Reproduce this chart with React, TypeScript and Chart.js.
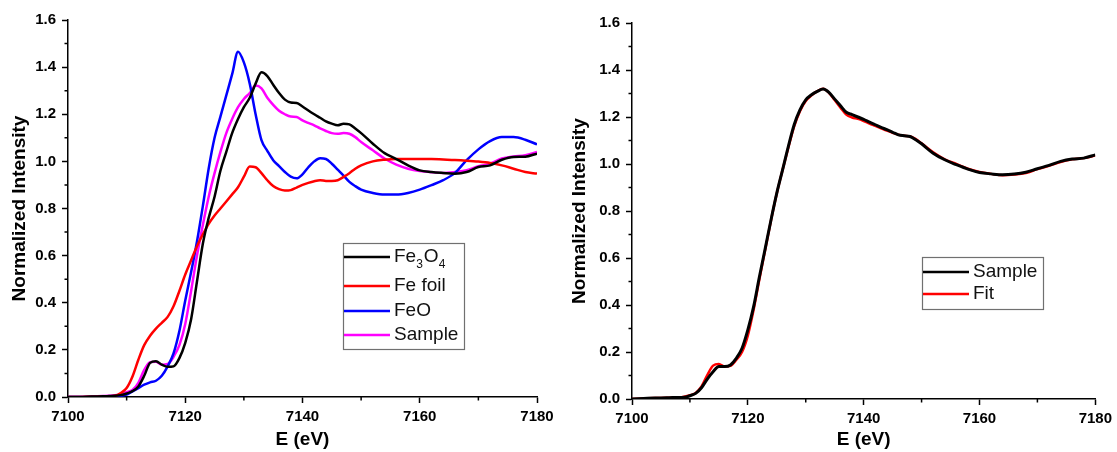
import React, { useEffect, useRef } from "react";
import { Chart, registerables } from "chart.js";

Chart.register(...registerables);

// ---------- data ----------
const energy = [
  7100, 7102, 7104, 7106, 7107, 7108, 7109,
  7110, 7111, 7112, 7113, 7114, 7115, 7116, 7117, 7118, 7119,
  7120, 7121, 7122, 7123, 7124, 7125, 7126, 7127, 7128, 7129,
  7130, 7131, 7132, 7133, 7134, 7135, 7136, 7137, 7138, 7139,
  7140, 7141, 7142, 7143, 7144, 7145, 7146, 7147, 7148, 7149,
  7150, 7152, 7154, 7156, 7158, 7160, 7162, 7164, 7166, 7168,
  7170, 7172, 7174, 7176, 7178, 7180,
];

const fe3o4 = [
  0, 0, 0.002, 0.003, 0.004, 0.005, 0.008,
  0.015, 0.025, 0.045, 0.09, 0.145, 0.152, 0.137, 0.128, 0.13, 0.165,
  0.23, 0.33, 0.49, 0.65, 0.76, 0.85, 0.96, 1.04, 1.12, 1.18,
  1.23, 1.27, 1.33, 1.378, 1.362, 1.325, 1.29, 1.262, 1.25, 1.248,
  1.233, 1.216, 1.2, 1.185, 1.17, 1.16, 1.153, 1.16, 1.157, 1.14,
  1.12, 1.075, 1.035, 1.01, 0.983, 0.962, 0.955, 0.951, 0.948, 0.955,
  0.976, 0.983, 1.007, 1.019, 1.02, 1.033,
];

const feFoil = [
  0, 0, 0.001, 0.002, 0.003, 0.005, 0.017,
  0.038, 0.087, 0.158, 0.22, 0.26, 0.29, 0.315, 0.34, 0.385, 0.45,
  0.52, 0.58, 0.64, 0.69, 0.735, 0.77, 0.8, 0.83, 0.86, 0.89,
  0.935, 0.978, 0.975, 0.95, 0.92, 0.895, 0.882, 0.876, 0.878, 0.889,
  0.9, 0.909, 0.916, 0.92, 0.917, 0.917, 0.92, 0.934, 0.95, 0.969,
  0.983, 1.0, 1.007, 1.01, 1.01, 1.01, 1.01, 1.008, 1.006, 1.003,
  0.999, 0.993, 0.983, 0.969, 0.955, 0.948,
];

const feO = [
  0, 0, 0, 0, 0, 0.002, 0.005,
  0.01, 0.024, 0.038, 0.052, 0.062, 0.069, 0.09, 0.13, 0.185, 0.28,
  0.41, 0.53, 0.66, 0.81, 0.97, 1.1, 1.19, 1.28, 1.37, 1.465,
  1.42, 1.33, 1.2, 1.09, 1.045, 1.005, 0.98, 0.955, 0.935, 0.928,
  0.945, 0.975, 1.0, 1.013, 1.01, 0.99, 0.965, 0.94, 0.913, 0.895,
  0.88, 0.866, 0.859, 0.859, 0.866, 0.88, 0.899, 0.92, 0.951, 1.005,
  1.051, 1.086, 1.103, 1.103, 1.092, 1.072,
];

const sampleLeft = [
  0, 0, 0.002, 0.004, 0.005, 0.007, 0.012,
  0.02, 0.03, 0.06, 0.115, 0.148, 0.15, 0.137, 0.14, 0.17, 0.22,
  0.31, 0.45, 0.6, 0.73, 0.85, 0.95, 1.04, 1.12, 1.18, 1.23,
  1.265, 1.29, 1.322, 1.31, 1.27, 1.24, 1.215, 1.2, 1.19, 1.188,
  1.174, 1.163, 1.153, 1.14, 1.129, 1.12, 1.117, 1.12, 1.117, 1.103,
  1.082, 1.047, 1.012, 0.986, 0.969, 0.959, 0.954, 0.951, 0.955, 0.962,
  0.979, 0.99, 1.012, 1.021, 1.026, 1.04,
];

const sampleRight = [
  0, 0.002, 0.004, 0.005, 0.006, 0.006, 0.007,
  0.014, 0.024, 0.048, 0.085, 0.116, 0.138, 0.138, 0.145, 0.173, 0.216,
  0.294, 0.393, 0.52, 0.64, 0.762, 0.876, 0.975, 1.075, 1.167, 1.23,
  1.273, 1.295, 1.309, 1.319, 1.305, 1.276, 1.248, 1.22, 1.21, 1.2,
  1.19, 1.178, 1.167, 1.156, 1.146, 1.135, 1.124, 1.12, 1.117, 1.103,
  1.086, 1.046, 1.018, 0.997, 0.978, 0.964, 0.958, 0.954, 0.957, 0.965,
  0.98, 0.994, 1.011, 1.021, 1.025, 1.039,
];

const fitRight = [
  0, 0.002, 0.004, 0.005, 0.006, 0.007, 0.01,
  0.016, 0.026, 0.053, 0.102, 0.142, 0.149, 0.138, 0.141, 0.166, 0.2,
  0.27, 0.38, 0.51, 0.635, 0.76, 0.875, 0.975, 1.07, 1.16, 1.225,
  1.268, 1.292, 1.31, 1.32, 1.303, 1.272, 1.24, 1.21, 1.198, 1.192,
  1.183, 1.172, 1.162, 1.152, 1.142, 1.133, 1.125, 1.12, 1.118, 1.106,
  1.088, 1.05, 1.02, 1.0, 0.98, 0.966, 0.958, 0.952, 0.955, 0.962,
  0.978, 0.992, 1.008, 1.02, 1.025, 1.036,
];

const xMin = 7100;
const xMax = 7180;
const xStep = 20;
const yMin = 0;
const yMax = 1.6;
const yStep = 0.2;
const xTitle = "E (eV)";
const yTitle = "Normalized Intensity";

// label parts: [text, isSubscript]
type Part = [string, boolean];
const leftLabels: Part[][] = [
  [["Fe", false], ["3", true], ["O", false], ["4", true]],
  [["Fe foil", false]],
  [["FeO", false]],
  [["Sample", false]],
];
const rightLabels: Part[][] = [[["Sample", false]], [["Fit", false]]];

const FONT = "'Liberation Sans', Arial, Helvetica, sans-serif";

const pts = (vals: number[]) => energy.map((e, i) => ({ x: e, y: vals[i] }));

type LegendCfg = {
  box: [number, number, number, number];
  lineX: [number, number];
  textX: number;
  rowsY: number[];
  labels: Part[][];
  colors: string[];
};

function makePanelConfig(
  datasets: { data: number[]; color: string; width: number }[],
  legend: LegendCfg,
  geom: { yWidth: number; xHeight: number; padTop: number; padRight: number }
): any {
  const legendPlugin = {
    id: "boxLegend",
    afterDraw(chart: any) {
      const ctx = chart.ctx as CanvasRenderingContext2D;
      ctx.save();
      const [x0, y0, x1, y1] = legend.box;
      ctx.fillStyle = "#ffffff";
      ctx.fillRect(x0, y0, x1 - x0, y1 - y0);
      ctx.strokeStyle = "#707070";
      ctx.lineWidth = 1.2;
      ctx.strokeRect(x0 + 0.5, y0 + 0.5, x1 - x0, y1 - y0);
      legend.labels.forEach((parts, i) => {
        const y = legend.rowsY[i];
        ctx.strokeStyle = legend.colors[i];
        ctx.lineWidth = 2.5;
        ctx.beginPath();
        ctx.moveTo(legend.lineX[0], y);
        ctx.lineTo(legend.lineX[1], y);
        ctx.stroke();
        let x = legend.textX;
        ctx.fillStyle = "#111";
        ctx.textBaseline = "middle";
        ctx.textAlign = "left";
        parts.forEach(([t, sub]) => {
          ctx.font = sub ? `12px ${FONT}` : `19px ${FONT}`;
          ctx.fillText(t, x, sub ? y + 8 : y);
          x += ctx.measureText(t).width + (sub ? 1 : 0);
        });
      });
      ctx.restore();
    },
  };

  const minorTicks = {
    id: "minorTicks",
    afterDraw(chart: any) {
      const ctx = chart.ctx as CanvasRenderingContext2D;
      const xs = chart.scales.x;
      const ys = chart.scales.y;
      const area = chart.chartArea;
      ctx.save();
      ctx.strokeStyle = "#000";
      ctx.lineWidth = 1.5;
      ctx.beginPath();
      for (let v = xMin + xStep / 2; v < xMax; v += xStep) {
        const px = xs.getPixelForValue(v);
        ctx.moveTo(px, area.bottom);
        ctx.lineTo(px, area.bottom + 3.5);
      }
      for (let k = 0; k < Math.round((yMax - yMin) / yStep); k++) {
        const v = yMin + yStep * k + yStep / 2;
        const py = ys.getPixelForValue(v);
        ctx.moveTo(area.left, py);
        ctx.lineTo(area.left - 3.5, py);
      }
      ctx.stroke();
      ctx.restore();
    },
  };

  return {
    type: "line",
    data: {
      datasets: datasets.map((d) => ({
        data: pts(d.data),
        borderColor: d.color,
        backgroundColor: d.color,
        borderWidth: d.width,
        pointRadius: 0,
        cubicInterpolationMode: "monotone",
        fill: false,
      })),
    },
    options: {
      animation: false,
      responsive: false,
      devicePixelRatio: 1,
      layout: { padding: { left: 0, top: geom.padTop, right: geom.padRight, bottom: 0 } },
      plugins: { legend: { display: false }, tooltip: { enabled: false } },
      scales: {
        x: {
          type: "linear",
          min: xMin,
          max: xMax,
          afterFit: (s: any) => {
            s.height = geom.xHeight;
          },
          ticks: {
            stepSize: xStep,
            color: "#000",
            font: { family: FONT, size: 15, weight: "bold" },
            padding: 5,
            maxRotation: 0,
            callback: (v: any) => String(v),
          },
          grid: { drawOnChartArea: false, tickLength: 6, tickColor: "#000", tickWidth: 1.5 },
          border: { display: true, color: "#000", width: 1.5 },
          title: {
            display: true,
            text: xTitle,
            color: "#000",
            font: { family: FONT, size: 19, weight: "bold", lineHeight: 1.2 },
            padding: { top: 0, bottom: 1 },
          },
        },
        y: {
          type: "linear",
          min: yMin,
          max: yMax,
          afterFit: (s: any) => {
            s.width = geom.yWidth;
          },
          ticks: {
            stepSize: yStep,
            color: "#000",
            font: { family: FONT, size: 15, weight: "bold" },
            padding: 6,
            callback: (v: any) => Number(v).toFixed(1),
          },
          grid: { drawOnChartArea: false, tickLength: 6, tickColor: "#000", tickWidth: 1.5 },
          border: { display: true, color: "#000", width: 1.5 },
          title: {
            display: true,
            text: yTitle,
            color: "#000",
            font: { family: FONT, size: 19, weight: "bold", lineHeight: 1.2 },
            padding: { top: 8, bottom: 0 },
          },
        },
      },
    },
    plugins: [minorTicks, legendPlugin],
  };
}

function Panel(props: { width: number; left: number; config: any }) {
  const ref = useRef<HTMLCanvasElement | null>(null);
  useEffect(() => {
    if (!ref.current) return;
    const chart = new Chart(ref.current, props.config);
    return () => chart.destroy();
  }, []);
  return (
    <canvas
      ref={ref}
      width={props.width}
      height={452}
      style={{ position: "absolute", left: props.left, top: 0, width: props.width, height: 452 }}
    />
  );
}

export default function App() {
  const leftCfg = makePanelConfig(
    [
      { data: fe3o4, color: "#000000", width: 2.5 },
      { data: feFoil, color: "#ff0000", width: 2.5 },
      { data: feO, color: "#0000ff", width: 2.5 },
      { data: sampleLeft, color: "#ff00ff", width: 2.5 },
    ],
    {
      box: [343, 243, 464, 349],
      lineX: [344, 390],
      textX: 394,
      rowsY: [257, 286, 311, 335],
      labels: leftLabels,
      colors: ["#000000", "#ff0000", "#0000ff", "#ff00ff"],
    },
    { yWidth: 68, xHeight: 55, padTop: 20, padRight: 23 }
  );
  const rightCfg = makePanelConfig(
    [
      { data: sampleRight, color: "#000000", width: 3 },
      { data: fitRight, color: "#ff0000", width: 2.5 },
    ],
    {
      box: [362, 257, 483, 309],
      lineX: [363, 409],
      textX: 413,
      rowsY: [272, 294],
      labels: rightLabels,
      colors: ["#000000", "#ff0000"],
    },
    { yWidth: 72, xHeight: 53, padTop: 23, padRight: 19 }
  );
  return (
    <div style={{ position: "fixed", left: 0, top: 0, width: 1117, height: 452, background: "#fff" }}>
      <Panel width={560} left={0} config={leftCfg} />
      <Panel width={557} left={560} config={rightCfg} />
    </div>
  );
}
